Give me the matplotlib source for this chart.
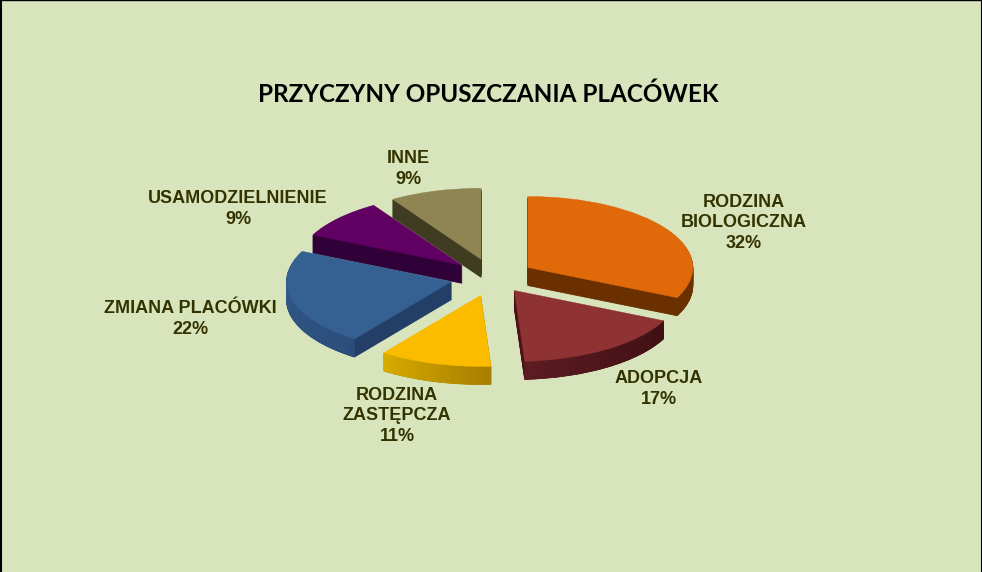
# coding: utf-8

import numpy as np
import matplotlib
matplotlib.use("Agg")
import matplotlib.pyplot as plt
from matplotlib.colors import to_rgb

# Donnees du graphique
categories = ["RODZINA\nBIOLOGICZNA", "ADOPCJA", "RODZINA\nZASTĘPCZA",
              "ZMIANA PLACÓWKI", "USAMODZIELNIENIE", "INNE"]
values = [32, 17, 11, 22, 9, 9]
title = "PRZYCZYNY OPUSZCZANIA PLACÓWEK"

# Couleurs : dessus, faces coupees, bord (gauche -> droite)
top_colors = ["#E0690A", "#8E3234", "#FBBC00", "#346092", "#600062", "#8F8552"]
cut_colors = ["#6A3000", "#4A1218", "#B08A00", "#233F68", "#300038", "#3F3C22"]
rim_start = ["#6A3000", "#5C1C22", "#D9AC00", "#35608E", "#300038", "#3F3C22"]
rim_end = ["#7A3A00", "#3E0F14", "#A67E00", "#2C4E7C", "#3A0044", "#4A4628"]
text_color = "#333300"
bg_color = "#D8E4BC"

W, H = 982, 572
cx, cy = 493, 277    # centre du camembert en pixels
rx, ry = 165, 71     # rayons de l'ellipse en pixels
depth = 18           # epaisseur en pixels
explode = [0.25, 0.23, 0.27, 0.26, 0.25, 0.26]

# positions des etiquettes en pixels (centre du texte)
label_pos = [(744, 223), (659, 389), (397, 416), (190, 319), (238, 209), (408, 169)]


def px(x, y):
    return x / W, 1 - y / H


fig = plt.figure(figsize=(W / 100, H / 100), dpi=100, facecolor=bg_color)
ax = fig.add_axes([0, 0, 1, 1])

dy = 1.0 / ry
# empilement de camemberts pour l'epaisseur
for d in range(depth, 0, -1):
    parts, _ = ax.pie(values, explode=explode, colors=cut_colors, startangle=90,
                      counterclock=False, center=(0, -d * dy), radius=1)
    for p in parts:
        p.set_edgecolor(p.get_facecolor())
        p.set_linewidth(0.6)

# le dessus, pour recuperer la geometrie des parts
wedges, _ = ax.pie(values, explode=explode, colors=top_colors, startangle=90,
                   counterclock=False)

# bord exterieur avec un degrade, seulement la partie visible devant
for w, c0, c1 in zip(wedges, rim_start, rim_end):
    a = np.radians(np.arange(w.theta1, w.theta2 + 1.0, 1.0))
    a = np.clip(a, np.radians(w.theta1), np.radians(w.theta2))
    for i in range(len(a) - 1):
        if np.sin(a[i]) > 0.02:
            continue
        t = i / max(len(a) - 2, 1)
        col = (1 - t) * np.array(to_rgb(c0)) + t * np.array(to_rgb(c1))
        x0, x1 = w.center[0] + np.cos(a[i]), w.center[0] + np.cos(a[i + 1])
        y0, y1 = w.center[1] + np.sin(a[i]), w.center[1] + np.sin(a[i + 1])
        ax.fill([x0, x1, x1, x0], [y0, y1, y1 - depth * dy, y0 - depth * dy],
                color=col, lw=0.3, zorder=4)

for w in wedges:
    w.set_edgecolor(w.get_facecolor())
    w.set_linewidth(0.3)
    w.set_zorder(5)

ax.set_aspect("auto")
ax.set_xlim(-cx / rx, (W - cx) / rx)
ax.set_ylim((cy - H) / ry, cy / ry)
ax.set_facecolor(bg_color)

ax.set_frame_on(True)
for s in ["left", "right", "top"]:
    ax.spines[s].set_color("black")
ax.spines["left"].set_linewidth(2.2)
ax.spines["right"].set_linewidth(2.2)
ax.spines["top"].set_linewidth(1.0)
ax.spines["bottom"].set_visible(False)

fig.text(*px(488, 94), title, family="Lato", weight="bold", fontsize=17.5,
         color="black", ha="center", va="center")

for name, v, pos in zip(categories, values, label_pos):
    fig.text(*px(*pos), "%s\n%d%%" % (name, v), family="Liberation Sans", weight="bold",
             fontsize=13, color=text_color, ha="center", va="center", linespacing=1.3)

plt.savefig("out.png", dpi=100, facecolor=bg_color)
